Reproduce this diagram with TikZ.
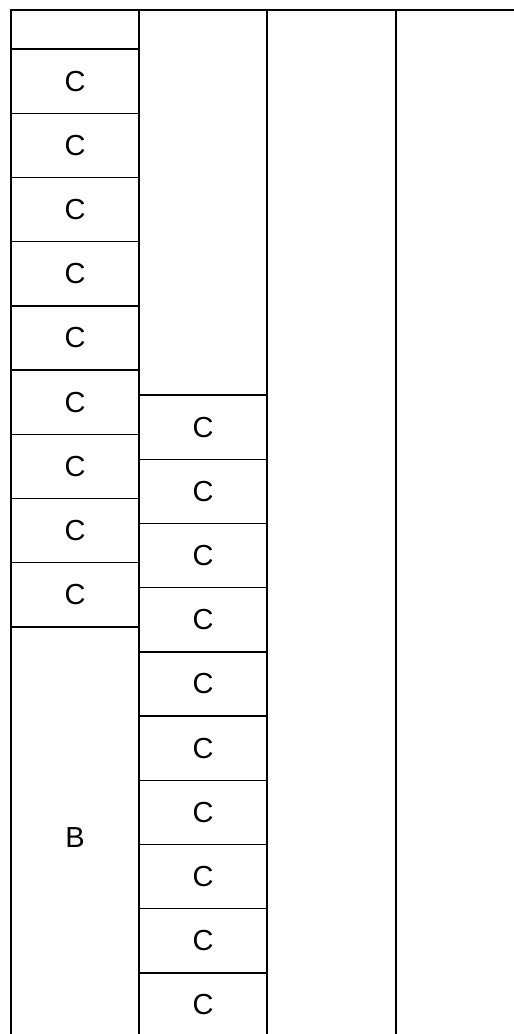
\documentclass[tikz,border=0pt]{standalone}
\usepackage{fontspec}
\setmainfont{Liberation Sans}
\usetikzlibrary{positioning}

\begin{document}
\begin{tikzpicture}[x=1pt, y=-1pt,
  cell/.style={rectangle, draw, line width=1.4pt, minimum width=128pt, minimum height=#1, inner sep=0pt, font=\fontsize{29}{34}\selectfont},
  cell/.default=64.2pt
]
  \useasboundingbox (0,0) rectangle (514,1034);
  \clip (0,0) rectangle (514,1034);
  % first column
  \node[cell=39pt]    (a0) at (75,29.5)  {};
  \node[cell]         (a1) at (75,81.1)  {C};
  \node[cell]         (a2) at (75,145.3) {C};
  \node[cell]         (a3) at (75,209.5) {C};
  \node[cell]         (a4) at (75,273.7) {C};
  \node[cell]         (a5) at (75,337.9) {C};
  \node[cell]         (a6) at (75,402.1) {C};
  \node[cell]         (a7) at (75,466.3) {C};
  \node[cell]         (a8) at (75,530.5) {C};
  \node[cell]         (a9) at (75,594.7) {C};
  \node[cell=422pt]   (b)  at (75,838)   {B};
  % second column
  \node[cell=385pt]   (e0)  at (203,202.5) {};
  \node[cell]         (e1)  at (203,427.1) {C};
  \node[cell]         (e2)  at (203,491.3) {C};
  \node[cell]         (e3)  at (203,555.5) {C};
  \node[cell]         (e4)  at (203,619.7) {C};
  \node[cell]         (e5)  at (203,683.9) {C};
  \node[cell]         (e6)  at (203,748.1) {C};
  \node[cell]         (e7)  at (203,812.3) {C};
  \node[cell]         (e8)  at (203,876.5) {C};
  \node[cell]         (e9)  at (203,940.7) {C};
  \node[cell]         (e10) at (203,1004.9) {C};
  % empty columns
  \node[cell=1060pt]  (f) at (331.5,540) {};
  \node[cell=1060pt]  (g) at (460.5,540) {};
\end{tikzpicture}
\end{document}
